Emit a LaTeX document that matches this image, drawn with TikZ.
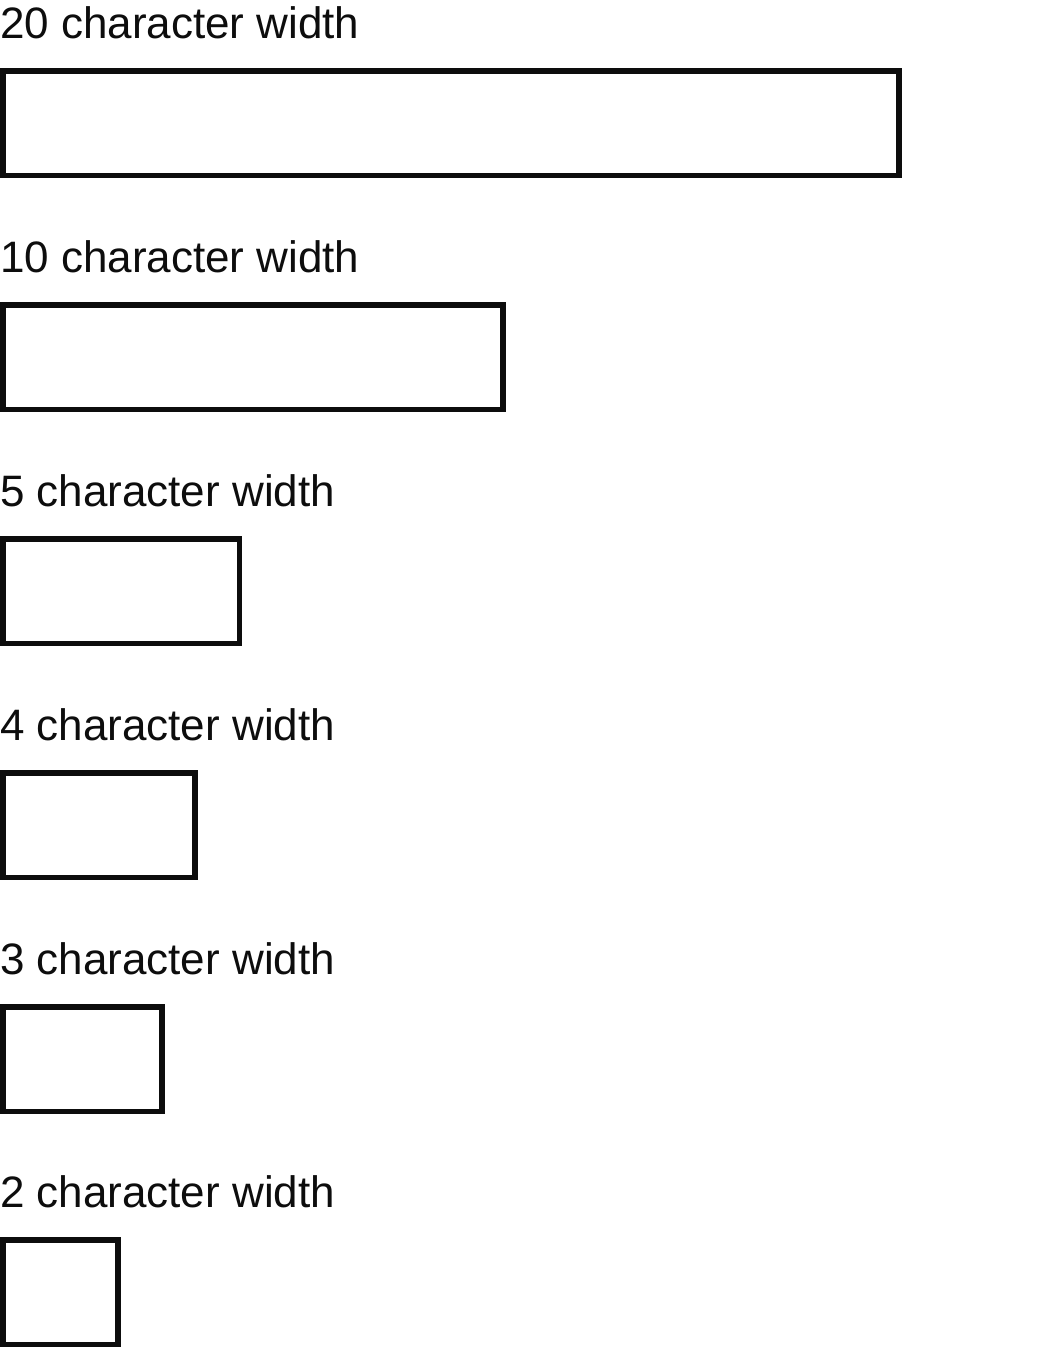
\documentclass[tikz,border=0pt]{standalone}
\usepackage{fontspec}
\setmainfont{Liberation Sans}
\begin{document}
\begin{tikzpicture}[x=1pt,y=-1pt,
  lbl/.style={anchor=base west,inner sep=0pt,outer sep=0pt,font=\fontsize{44}{50}\selectfont,text=black!95},
  fieldbox/.style={draw=black!95,line width=5.5pt,inner sep=0pt,outer sep=0pt,anchor=north west,minimum height=104.5pt}]
\useasboundingbox[fill=white] (0,0) rectangle (1037,1348);
\node[lbl] (l20) at (0,39) {20 character width};
\node[fieldbox,minimum width=896.2pt] (b20) at (2.75,71) {};
\node[lbl] (l10) at (0,272.5) {10 character width};
\node[fieldbox,minimum width=500.2pt] (b10) at (2.75,305) {};
\node[lbl] (l5) at (0,506.5) {5 character width};
\node[fieldbox,minimum width=236.7pt] (b5) at (2.75,539) {};
\node[lbl] (l4) at (0,740) {4 character width};
\node[fieldbox,minimum width=192.2pt] (b4) at (2.75,773) {};
\node[lbl] (l3) at (0,974) {3 character width};
\node[fieldbox,minimum width=159.2pt] (b3) at (2.75,1007) {};
\node[lbl] (l2) at (0,1207.5) {2 character width};
\node[fieldbox,minimum width=115.2pt] (b2) at (2.75,1240) {};
\end{tikzpicture}
\end{document}
